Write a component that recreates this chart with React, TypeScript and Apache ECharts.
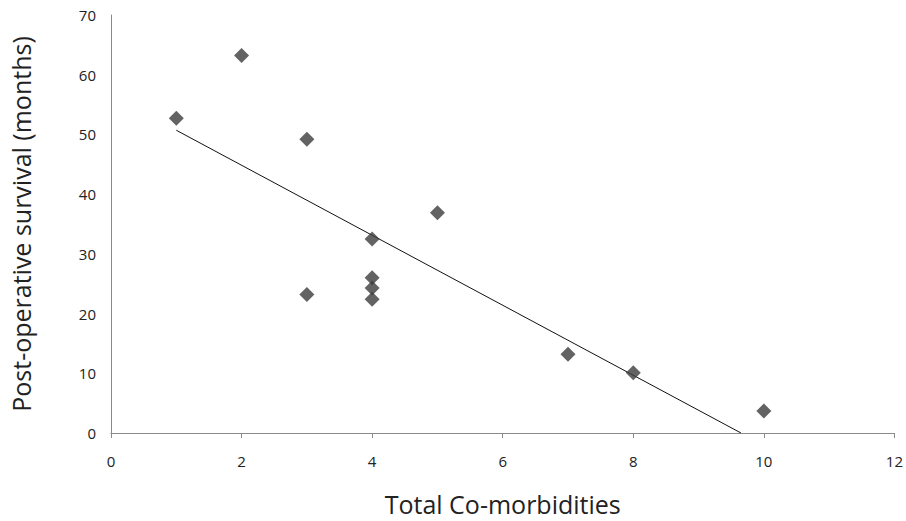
import React, { useEffect, useRef } from "react";
import * as echarts from "echarts";

const xValues = [1, 2, 3, 3, 4, 4, 4, 4, 5, 7, 8, 10];
const yValues = [52.7, 63.2, 49.2, 23.2, 32.5, 26.0, 24.3, 22.4, 36.9, 13.2, 10.1, 3.7];
const trendX = [1, 9.65];
const trendY = [50.7, 0];
const xTicks = { min: 0, max: 12, interval: 2 };
const yTicks = { min: 0, max: 70, interval: 10 };

export default function App() {
  const ref = useRef<HTMLDivElement>(null);
  useEffect(() => {
    document.body.style.margin = "0";
    document.body.style.overflow = "hidden";
    const chart = echarts.init(ref.current!, null, { renderer: "svg" });
    const font = "Open Sans, Lato, sans-serif";
    chart.setOption({
      animation: false,
      backgroundColor: "#ffffff",
      grid: { left: 111, right: 8, top: 15, bottom: 86 },
      xAxis: {
        type: "value",
        ...xTicks,
        name: "Total Co-morbidities",
        nameLocation: "middle",
        nameGap: 58,
        nameTextStyle: { fontSize: 25, color: "#222", fontFamily: font },
        axisLine: { show: true, lineStyle: { color: "#8a8a8a", width: 1 } },
        axisTick: { show: true, length: 5, lineStyle: { color: "#8a8a8a" } },
        axisLabel: { fontSize: 15, color: "#222", margin: 20, fontFamily: font },
        splitLine: { show: false },
      },
      yAxis: {
        type: "value",
        ...yTicks,
        name: "Post-operative survival (months)",
        nameLocation: "middle",
        nameGap: 78,
        nameTextStyle: { fontSize: 25, color: "#222", fontFamily: font },
        axisLine: { show: true, lineStyle: { color: "#8a8a8a", width: 1 } },
        axisTick: { show: false },
        axisLabel: { fontSize: 15, color: "#222", margin: 15, fontFamily: font },
        splitLine: { show: false },
      },
      series: [
        {
          type: "line",
          data: trendX.map((x, i) => [x, trendY[i]]),
          showSymbol: false,
          symbol: "none",
          lineStyle: { color: "#111", width: 1 },
          z: 1,
        },
        {
          type: "scatter",
          data: xValues.map((x, i) => [x, yValues[i]]),
          symbol: "diamond",
          symbolSize: [15, 15],
          itemStyle: { color: "#3c3c3c" },
          z: 2,
        },
      ],
    });
    return () => chart.dispose();
  }, []);
  return <div ref={ref} style={{ width: 906, height: 521 }} />;
}
